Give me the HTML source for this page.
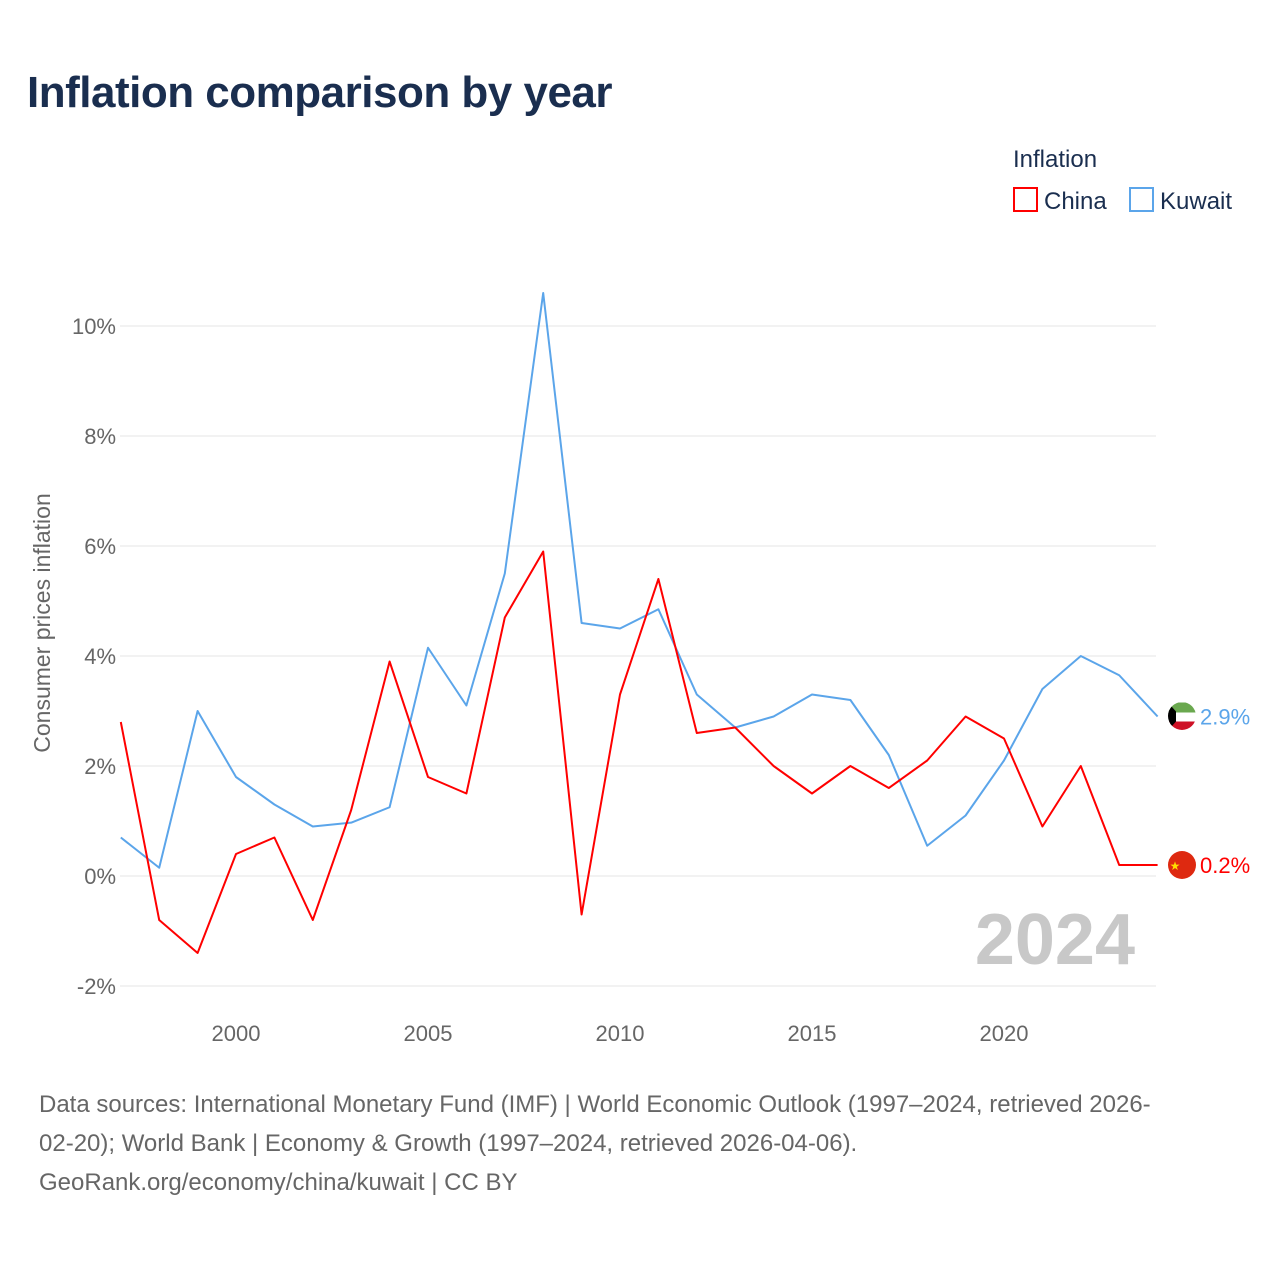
<!DOCTYPE html>
<html><head><meta charset="utf-8">
<style>
body{margin:0;background:#fff;font-family:"Liberation Sans",sans-serif;}
#wrap{position:relative;width:1280px;height:1280px;overflow:hidden;}
.title{position:absolute;left:27px;top:68px;font-size:44px;font-weight:bold;color:#1a2e4f;letter-spacing:-0.5px;}
.src{position:absolute;left:39px;top:1085px;font-size:24px;line-height:39px;color:#666;width:1240px;white-space:nowrap;}
</style></head><body>
<div id="wrap">
<div class="title">Inflation comparison by year</div>
<svg id="chart" width="1280" height="1280" style="position:absolute;left:0;top:0">
<defs><clipPath id="kwc"><circle cx="1182" cy="716" r="14"/></clipPath><clipPath id="cnc"><circle cx="1182" cy="865" r="14"/></clipPath></defs>
</svg>
<div class="src">Data sources: International Monetary Fund (IMF) | World Economic Outlook (1997–2024, retrieved 2026-<br>02-20); World Bank | Economy &amp; Growth (1997–2024, retrieved 2026-04-06).<br>GeoRank.org/economy/china/kuwait | CC BY</div>
</div>
<script>
const years=[1997,1998,1999,2000,2001,2002,2003,2004,2005,2006,2007,2008,2009,2010,2011,2012,2013,2014,2015,2016,2017,2018,2019,2020,2021,2022,2023,2024];
const china=[2.8,-0.8,-1.4,0.4,0.7,-0.8,1.2,3.9,1.8,1.5,4.7,5.9,-0.7,3.3,5.4,2.6,2.7,2.0,1.5,2.0,1.6,2.1,2.9,2.5,0.9,2.0,0.2,0.2];
const kuwait=[0.7,0.15,3.0,1.8,1.3,0.9,0.97,1.25,4.15,3.1,5.5,10.6,4.6,4.5,4.85,3.3,2.7,2.9,3.3,3.2,2.2,0.55,1.1,2.1,3.4,4.0,3.65,2.9];
const yTicks=[-2,0,2,4,6,8,10];
const xTicks=[2000,2005,2010,2015,2020];
const NS="http://www.w3.org/2000/svg";
const svg=document.getElementById('chart');
const X=y=>120.8+(y-1997)*38.4;
const Y=v=>876-v*55;
function mk(t,a,txt){const e=document.createElementNS(NS,t);for(const k in a)e.setAttribute(k,a[k]);if(txt!=null)e.textContent=txt;svg.appendChild(e);return e;}
yTicks.forEach(v=>{
 const l=mk('line',{x1:120,x2:1156,y1:Y(v),y2:Y(v),stroke:'#e6e6e6','stroke-width':1});
 
 
 const t=mk('text',{x:116,y:Y(v)+8,'text-anchor':'end','font-size':22,fill:'#666'},v+'%');
 
 
});
xTicks.forEach(v=>{
 const t=mk('text',{x:X(v),y:1041,'text-anchor':'middle','font-size':22,fill:'#666'},String(v));
 
 
});
const yt=mk('text',{transform:'translate(50,623) rotate(-90)','text-anchor':'middle','font-size':23,fill:'#666'},'Consumer prices inflation');


const yr=mk('text',{x:1135,y:964,'text-anchor':'end','font-size':72,'font-weight':'bold',fill:'#c8c8c8'},'2024');


function series(vals,color,name){
 const p=mk('polyline',{points:vals.map((v,i)=>X(years[i])+','+Y(v)).join(' '),fill:'none',stroke:color,'stroke-width':2,'stroke-linejoin':'round'});
 
 
 const last=vals[vals.length-1];
 const cy=Y(last);
 const g=document.createElementNS(NS,'g');
 
 
 svg.appendChild(g);
 function add(t,a){const e=document.createElementNS(NS,t);for(const k in a)e.setAttribute(k,a[k]);g.appendChild(e);}
 if(name==='kuwait'){
  g.setAttribute('clip-path','url(#kwc)');
  add('rect',{x:1168,y:cy-14,width:28,height:10,fill:'#6aa84f'});
  add('rect',{x:1168,y:cy-4,width:28,height:9,fill:'#fff'});
  add('rect',{x:1168,y:cy+5,width:28,height:10,fill:'#ce1126'});
  add('polygon',{points:`1168,${cy-14} 1176,${cy-5} 1176,${cy+5} 1168,${cy+14}`,fill:'#000'});
 } else {
  g.setAttribute('clip-path','url(#cnc)');
  add('rect',{x:1168,y:cy-14,width:28,height:28,fill:'#de2910'});
  add('text',{x:1175,y:cy+5,'font-size':12,fill:'#ffde00','text-anchor':'middle'});
  g.lastChild.textContent='★';
 }
 const t=mk('text',{x:1200,y:cy+8,'font-size':22,fill:color},last.toFixed(1)+'%');
 
 
}
series(kuwait,'#5ba5ea','kuwait');
series(china,'#ff0000','china');
const lt=mk('text',{x:1013,y:167,'font-size':24,fill:'#1a2e4f'},'Inflation');


[[1014,'#ff0000','China'],[1130,'#5ba5ea','Kuwait']].forEach(([x,c,n])=>{
 const r=mk('rect',{x:x,y:188,width:23,height:23,fill:'none',stroke:c,'stroke-width':2});
 
 
 const t=mk('text',{x:x+30,y:209,'font-size':24,fill:'#1a2e4f'},n);
 
 
});
</script>
</body></html>
